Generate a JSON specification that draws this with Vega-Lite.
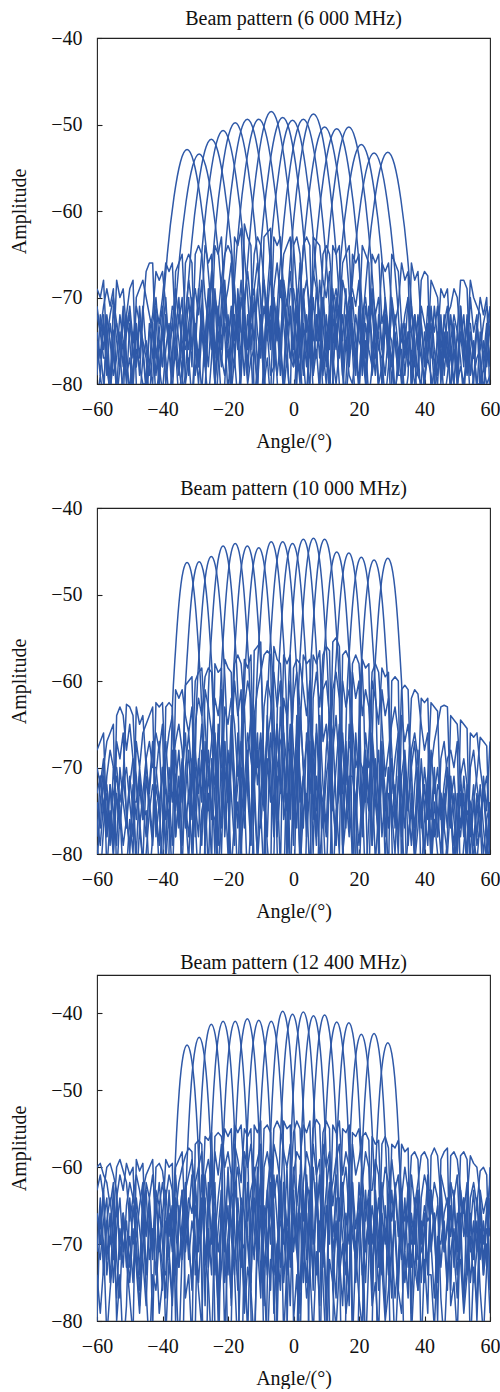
{
"$schema":"https://vega.github.io/schema/vega-lite/v6.json",
"background":"white",
"padding":{"left":9,"top":8,"right":0,"bottom":0},
"config":{
 "font":"Liberation Serif",
 "view":{"stroke":"#222","strokeWidth":1.1},
 "title":{"font":"Liberation Serif","fontSize":20,"fontWeight":"normal","color":"#111","offset":-1},
 "axis":{"labelFont":"Liberation Serif","labelFontSize":20,"labelColor":"#111","titleFont":"Liberation Serif","titleFontSize":20,"titleFontWeight":"normal","titleColor":"#111","grid":false,"domain":false,"tickColor":"#222","tickSize":-5,"tickWidth":1.1,"labelPadding":20,"labelFlush":false,"labelOverlap":false},
 "line":{"color":"#2f59a8","strokeWidth":1.5,"strokeJoin":"round"}
},
"datasets":{
"n1":[
{"x":-60,"a":-69,"b":-72,"c":-75,"d":-78,"e":-82,"f":-71,"g":-74,"h":-79},
{"x":-59,"a":-70,"b":-74,"c":-79,"d":-76,"e":-79,"f":-74,"g":-77,"h":-72},
{"x":-58,"a":-68,"b":-71,"c":-73,"d":-80,"e":-82,"f":-77,"g":-72,"h":-76},
{"x":-57,"a":-76,"b":-69,"c":-78,"d":-75,"e":-72,"f":-77,"g":-79,"h":-73},
{"x":-56,"a":-82,"b":-71,"c":-81,"d":-72,"e":-75,"f":-79,"g":-73,"h":-80},
{"x":-55,"a":-74,"b":-69,"c":-77,"d":-70,"e":-79,"f":-76,"g":-76,"h":-71},
{"x":-54,"a":-73,"b":-82,"c":-68,"d":-73,"e":-77,"f":-80,"g":-81,"h":-75},
{"x":-53,"a":-76,"b":-78,"c":-70,"d":-76,"e":-72,"f":-82,"g":-74,"h":-78},
{"x":-52,"a":-71,"b":-75,"c":-69,"d":-82,"e":-75,"f":-79,"g":-78,"h":-72},
{"x":-51,"a":-77,"b":-80,"c":-74,"d":-72,"e":-79,"f":-74,"g":-72,"h":-77},
{"x":-50,"a":-82,"b":-73,"c":-71,"d":-69,"e":-77,"f":-72,"g":-75,"h":-81},
{"x":-49,"a":-78,"b":-76,"c":-75,"d":-68,"e":-81,"f":-77,"g":-80,"h":-74},
{"x":-48,"a":-76,"b":-78,"c":-71,"d":-80,"e":-70,"f":-74,"g":-73,"h":-78},
{"x":-47,"a":-78,"b":-73,"c":-73,"d":-82,"e":-69,"f":-79,"g":-77,"h":-71},
{"x":-46,"a":-80,"b":-76,"c":-75,"d":-77,"e":-68,"f":-72,"g":-71,"h":-76},
{"x":-45,"a":-80,"b":-81,"c":-77,"d":-75,"e":-70,"f":-67,"g":-76,"h":-80},
{"x":-44,"a":-74,"b":-78,"c":-82,"d":-78,"e":-72,"f":-66,"g":-79,"h":-73},
{"x":-43,"a":-72,"b":-80,"c":-76,"d":-73,"e":-74,"f":-66,"g":-73,"h":-77},
{"x":-42,"a":-67,"b":-71,"c":-76,"d":-79,"e":-82,"f":-77,"g":-70,"h":-72},
{"x":-41,"a":-68,"b":-73,"c":-80,"d":-75,"e":-78,"f":-74,"g":-75,"h":-79},
{"x":-40,"a":-67,"b":-70,"c":-74,"d":-78,"e":-81,"f":-71,"g":-78,"h":-74},
{"x":-39,"a":-71,"b":-66,"c":-77,"d":-72,"e":-76,"f":-80,"g":-72,"h":-70},
{"x":-38,"a":-76,"b":-67,"c":-82,"d":-75,"e":-73,"f":-76,"g":-76,"h":-77},
{"x":-37,"a":-73,"b":-66,"c":-79,"d":-71,"e":-78,"f":-79,"g":-81,"h":-73},
{"x":-36,"a":-69,"b":-74,"c":-67,"d":-72,"e":-77,"f":-76,"g":-74,"h":-76},
{"x":-35,"a":-73,"b":-78,"c":-66,"d":-75,"e":-72,"f":-82,"g":-70,"h":-79},
{"x":-34,"a":-70,"b":-81,"c":-65,"d":-79,"e":-75,"f":-78,"g":-77,"h":-72},
{"x":-33,"a":-80,"b":-79,"c":-73,"d":-66,"e":-76,"f":-72,"g":-73,"h":-75},
{"x":-32,"a":-77,"b":-73,"c":-76,"d":-65,"e":-73,"f":-68,"g":-79,"h":-70},
{"x":-31,"a":-82,"b":-70,"c":-71,"d":-66,"e":-78,"f":-71,"g":-71,"h":-76},
{"x":-30,"a":-75,"b":-74,"c":-69,"d":-79,"e":-65,"f":-74,"g":-75,"h":-73},
{"x":-29,"a":-80,"b":-78,"c":-72,"d":-76,"e":-64,"f":-77,"g":-69,"h":-78},
{"x":-28,"a":-74,"b":-72,"c":-68,"d":-81,"e":-65,"f":-71,"g":-74,"h":-71},
{"x":-27,"a":-75,"b":-78,"c":-77,"d":-74,"e":-70,"f":-64,"g":-78,"h":-75},
{"x":-26,"a":-70,"b":-82,"c":-72,"d":-78,"e":-73,"f":-66,"g":-72,"h":-69},
{"x":-25,"a":-74,"b":-77,"c":-76,"d":-72,"e":-67,"f":-65,"g":-76,"h":-74},
{"x":-24,"a":-64,"b":-70,"c":-69,"d":-80,"e":-80,"f":-77,"g":-70,"h":-80},
{"x":-23,"a":-65,"b":-72,"c":-74,"d":-74,"e":-76,"f":-71,"g":-77,"h":-72},
{"x":-22,"a":-63,"b":-68,"c":-77,"d":-78,"e":-82,"f":-75,"g":-73,"h":-76},
{"x":-21,"a":-71,"b":-65,"c":-79,"d":-71,"e":-80,"f":-73,"g":-68,"h":-70},
{"x":-20,"a":-75,"b":-64,"c":-76,"d":-69,"e":-72,"f":-76,"g":-74,"h":-75},
{"x":-19,"a":-72,"b":-65,"c":-81,"d":-66,"e":-76,"f":-81,"g":-79,"h":-71},
{"x":-18,"a":-70,"b":-75,"c":-63,"d":-70,"e":-78,"f":-77,"g":-72,"h":-77},
{"x":-17,"a":-73,"b":-72,"c":-64,"d":-74,"e":-70,"f":-82,"g":-76,"h":-69},
{"x":-16,"a":-68,"b":-77,"c":-62,"d":-79,"e":-74,"f":-78,"g":-70,"h":-74},
{"x":-15,"a":-75,"b":-71,"c":-72,"d":-61.5,"e":-74,"f":-70,"g":-73,"h":-79},
{"x":-14,"a":-80,"b":-76,"c":-76,"d":-63,"e":-79,"f":-67,"g":-78,"h":-72},
{"x":-13,"a":-77,"b":-73,"c":-70,"d":-64,"e":-72,"f":-71,"g":-71,"h":-76},
{"x":-12,"a":-76,"b":-75,"c":-69,"d":-82,"e":-65,"f":-69,"g":-75,"h":-70},
{"x":-11,"a":-80,"b":-81,"c":-66,"d":-78,"e":-63,"f":-74,"g":-69,"h":-78},
{"x":-10,"a":-73,"b":-72,"c":-70,"d":-75,"e":-64,"f":-77,"g":-74,"h":-73},
{"x":-9,"a":-76,"b":-80,"c":-77,"d":-71,"e":-68,"f":-63,"g":-80,"h":-68},
{"x":-8,"a":-70,"b":-77,"c":-71,"d":-74,"e":-72,"f":-62.5,"g":-72,"h":-75},
{"x":-7,"a":-74,"b":-82,"c":-75,"d":-79,"e":-67,"f":-62,"g":-76,"h":-71},
{"x":-6,"a":-63,"b":-69,"c":-70,"d":-78,"e":-76,"f":-78,"g":-70,"h":-77},
{"x":-5,"a":-64,"b":-66,"c":-73,"d":-72,"e":-79,"f":-71,"g":-75,"h":-73},
{"x":-4,"a":-63,"b":-70,"c":-76,"d":-76,"e":-75,"f":-75,"g":-68,"h":-79},
{"x":-3,"a":-71,"b":-65,"c":-81,"d":-68,"e":-69,"f":-80,"g":-73,"h":-70},
{"x":-2,"a":-74,"b":-64,"c":-77,"d":-71,"e":-73,"f":-73,"g":-78,"h":-74},
{"x":-1,"a":-69,"b":-63,"c":-82,"d":-67,"e":-77,"f":-77,"g":-71,"h":-72},
{"x":0,"a":-69,"b":-71,"c":-64,"d":-72,"e":-75,"f":-78,"g":-76,"h":-78},
{"x":1,"a":-72,"b":-75,"c":-63,"d":-80,"e":-72,"f":-76,"g":-69,"h":-71},
{"x":2,"a":-66,"b":-79,"c":-65,"d":-70,"e":-77,"f":-80,"g":-74,"h":-75},
{"x":3,"a":-77,"b":-70,"c":-74,"d":-64,"e":-73,"f":-70,"g":-79,"h":-69},
{"x":4,"a":-82,"b":-74,"c":-78,"d":-63,"e":-76,"f":-68,"g":-72,"h":-76},
{"x":5,"a":-75,"b":-71,"c":-71,"d":-64,"e":-81,"f":-71,"g":-77,"h":-73},
{"x":6,"a":-74,"b":-75,"c":-67,"d":-79,"e":-63,"f":-78,"g":-70,"h":-79},
{"x":7,"a":-77,"b":-69,"c":-69,"d":-76,"e":-63.5,"f":-72,"g":-75,"h":-72},
{"x":8,"a":-72,"b":-73,"c":-72,"d":-81,"e":-64,"f":-75,"g":-68,"h":-77},
{"x":9,"a":-79,"b":-78,"c":-76,"d":-70,"e":-68,"f":-65,"g":-73,"h":-70},
{"x":10,"a":-72,"b":-75,"c":-80,"d":-76,"e":-70,"f":-64,"g":-78,"h":-74},
{"x":11,"a":-76,"b":-82,"c":-74,"d":-72,"e":-67,"f":-65,"g":-71,"h":-80},
{"x":12,"a":-64,"b":-71,"c":-69,"d":-78,"e":-77,"f":-70,"g":-76,"h":-72},
{"x":13,"a":-65,"b":-69,"c":-75,"d":-73,"e":-80,"f":-74,"g":-70,"h":-76},
{"x":14,"a":-64,"b":-72,"c":-71,"d":-77,"e":-76,"f":-80,"g":-74,"h":-71},
{"x":15,"a":-78,"b":-66,"c":-79,"d":-68,"e":-72,"f":-81,"g":-79,"h":-75},
{"x":16,"a":-73,"b":-65,"c":-82,"d":-70,"e":-76,"f":-75,"g":-72,"h":-69},
{"x":17,"a":-70,"b":-64,"c":-77,"d":-73,"e":-71,"f":-79,"g":-76,"h":-78},
{"x":18,"a":-69,"b":-74,"c":-65,"d":-75,"e":-76,"f":-80,"g":-70,"h":-73},
{"x":19,"a":-71,"b":-78,"c":-66,"d":-79,"e":-72,"f":-76,"g":-75,"h":-77},
{"x":20,"a":-68,"b":-72,"c":-65,"d":-73,"e":-75,"f":-81,"g":-80,"h":-71},
{"x":21,"a":-78,"b":-79,"c":-77,"d":-64,"e":-76,"f":-72,"g":-73,"h":-75},
{"x":22,"a":-75,"b":-73,"c":-71,"d":-65,"e":-80,"f":-70,"g":-77,"h":-79},
{"x":23,"a":-82,"b":-76,"c":-74,"d":-66,"e":-75,"f":-74,"g":-71,"h":-73},
{"x":24,"a":-78,"b":-78,"c":-69,"d":-79,"e":-65,"f":-71,"g":-75,"h":-70},
{"x":25,"a":-73,"b":-72,"c":-72,"d":-76,"e":-66,"f":-77,"g":-79,"h":-76},
{"x":26,"a":-81,"b":-76,"c":-70,"d":-80,"e":-65,"f":-73,"g":-72,"h":-74},
{"x":27,"a":-80,"b":-77,"c":-76,"d":-78,"e":-73,"f":-66,"g":-76,"h":-80},
{"x":28,"a":-73,"b":-82,"c":-79,"d":-72,"e":-71,"f":-67,"g":-70,"h":-72},
{"x":29,"a":-77,"b":-78,"c":-74,"d":-75,"e":-74,"f":-66,"g":-74,"h":-77},
{"x":30,"a":-65,"b":-70,"c":-80,"d":-77,"e":-75,"f":-71,"g":-78,"h":-71},
{"x":31,"a":-66,"b":-73,"c":-74,"d":-82,"e":-81,"f":-75,"g":-72,"h":-75},
{"x":32,"a":-67,"b":-71,"c":-77,"d":-76,"e":-78,"f":-79,"g":-76,"h":-79},
{"x":33,"a":-73,"b":-66,"c":-76,"d":-75,"e":-73,"f":-79,"g":-80,"h":-73},
{"x":34,"a":-79,"b":-68,"c":-82,"d":-72,"e":-77,"f":-75,"g":-73,"h":-76},
{"x":35,"a":-74,"b":-67,"c":-79,"d":-70,"e":-74,"f":-78,"g":-77,"h":-70},
{"x":36,"a":-74,"b":-81,"c":-66,"d":-80,"e":-77,"f":-77,"g":-71,"h":-74},
{"x":37,"a":-72,"b":-76,"c":-68,"d":-72,"e":-72,"f":-80,"g":-75,"h":-78},
{"x":38,"a":-76,"b":-79,"c":-67,"d":-76,"e":-75,"f":-78,"g":-79,"h":-72},
{"x":39,"a":-82,"b":-80,"c":-73,"d":-68,"e":-77,"f":-71,"g":-73,"h":-76},
{"x":40,"a":-79,"b":-74,"c":-78,"d":-67,"e":-80,"f":-73,"g":-77,"h":-80},
{"x":41,"a":-77,"b":-77,"c":-74,"d":-67.5,"e":-76,"f":-75,"g":-71,"h":-73},
{"x":42,"a":-79,"b":-71,"c":-72,"d":-81,"e":-68,"f":-73,"g":-75,"h":-77},
{"x":43,"a":-82,"b":-76,"c":-74,"d":-78,"e":-69,"f":-78,"g":-80,"h":-71},
{"x":44,"a":-77,"b":-79,"c":-71,"d":-80,"e":-70,"f":-75,"g":-74,"h":-75},
{"x":45,"a":-73,"b":-76,"c":-80,"d":-72,"e":-76,"f":-69,"g":-78,"h":-79},
{"x":46,"a":-77,"b":-82,"c":-75,"d":-79,"e":-73,"f":-70,"g":-72,"h":-74},
{"x":47,"a":-72,"b":-79,"c":-78,"d":-74,"e":-71,"f":-69,"g":-76,"h":-78},
{"x":48,"a":-71,"b":-75,"c":-77,"d":-81,"e":-77,"f":-76,"g":-81,"h":-72},
{"x":49,"a":-69,"b":-72,"c":-73,"d":-76,"e":-80,"f":-80,"g":-74,"h":-76},
{"x":50,"a":-70,"b":-74,"c":-80,"d":-79,"e":-82,"f":-74,"g":-78,"h":-80},
{"x":51,"a":-75,"b":-68,"c":-78,"d":-71,"e":-71,"f":-77,"g":-72,"h":-74},
{"x":52,"a":-72,"b":-68,"c":-80,"d":-76,"e":-75,"f":-82,"g":-77,"h":-78},
{"x":53,"a":-78,"b":-69,"c":-76,"d":-73,"e":-79,"f":-75,"g":-73,"h":-72},
{"x":54,"a":-70,"b":-79,"c":-68,"d":-73,"e":-74,"f":-82,"g":-79,"h":-76},
{"x":55,"a":-74,"b":-76,"c":-70,"d":-77,"e":-77,"f":-79,"g":-75,"h":-80},
{"x":56,"a":-72,"b":-80,"c":-71,"d":-74,"e":-73,"f":-77,"g":-81,"h":-73},
{"x":57,"a":-81,"b":-80,"c":-72,"d":-70,"e":-77,"f":-76,"g":-74,"h":-77},
{"x":58,"a":-78,"b":-75,"c":-78,"d":-72,"e":-82,"f":-73,"g":-77,"h":-81},
{"x":59,"a":-80,"b":-78,"c":-75,"d":-70,"e":-76,"f":-71,"g":-73,"h":-74},
{"x":60,"a":-79,"b":-73,"c":-74,"d":-82,"e":-71,"f":-73,"g":-78,"h":-77}
],
"n2":[
{"x":-60,"a":-70,"b":-76,"c":-68,"d":-82,"e":-73,"f":-79,"g":-74,"h":-78},
{"x":-59,"a":-72,"b":-79,"c":-67,"d":-74,"e":-71,"f":-83,"g":-77,"h":-71},
{"x":-58,"a":-69,"b":-74,"c":-66,"d":-70,"e":-75,"f":-77,"g":-71,"h":-75},
{"x":-57,"a":-82,"b":-72,"c":-77,"d":-67,"e":-78,"f":-71,"g":-78,"h":-73},
{"x":-56,"a":-76,"b":-77,"c":-72,"d":-66,"e":-75,"f":-68,"g":-72,"h":-79},
{"x":-55,"a":-80,"b":-73,"c":-79,"d":-65,"e":-80,"f":-70,"g":-75,"h":-70},
{"x":-54,"a":-73,"b":-71,"c":-67,"d":-83,"e":-64,"f":-70,"g":-79,"h":-74},
{"x":-53,"a":-77,"b":-75,"c":-69,"d":-75,"e":-63,"f":-74,"g":-70,"h":-77},
{"x":-52,"a":-72,"b":-83,"c":-66,"d":-79,"e":-64,"f":-71,"g":-74,"h":-71},
{"x":-51,"a":-70,"b":-82,"c":-76,"d":-76,"e":-68,"f":-62.7,"g":-77,"h":-75},
{"x":-50,"a":-74,"b":-76,"c":-79,"d":-72,"e":-65,"f":-63,"g":-71,"h":-80},
{"x":-49,"a":-78,"b":-80,"c":-74,"d":-69,"e":-69,"f":-64,"g":-75,"h":-72},
{"x":-48,"a":-63,"b":-67,"c":-74,"d":-71,"e":-84,"f":-72,"g":-80,"h":-76},
{"x":-47,"a":-65,"b":-70,"c":-71,"d":-77,"e":-77,"f":-76,"g":-72,"h":-70},
{"x":-46,"a":-64,"b":-66,"c":-76,"d":-73,"e":-81,"f":-81,"g":-76,"h":-74},
{"x":-45,"a":-70,"b":-65,"c":-75,"d":-69,"e":-71,"f":-80,"g":-69,"h":-78},
{"x":-44,"a":-73,"b":-64,"c":-83,"d":-67,"e":-75,"f":-75,"g":-74,"h":-72},
{"x":-43,"a":-68,"b":-63,"c":-78,"d":-70,"e":-79,"f":-72,"g":-78,"h":-67},
{"x":-42,"a":-66,"b":-78,"c":-62.5,"d":-70,"e":-72,"f":-74,"g":-71,"h":-75},
{"x":-41,"a":-68,"b":-74,"c":-63,"d":-74,"e":-75,"f":-82,"g":-67,"h":-79},
{"x":-40,"a":-65,"b":-71,"c":-62.5,"d":-83,"e":-70,"f":-77,"g":-75,"h":-70},
{"x":-39,"a":-81,"b":-67,"c":-72,"d":-63,"e":-76,"f":-69,"g":-79,"h":-73},
{"x":-38,"a":-75,"b":-73,"c":-76,"d":-62.5,"e":-73,"f":-66,"g":-70,"h":-77},
{"x":-37,"a":-83,"b":-69,"c":-70,"d":-63,"e":-79,"f":-64,"g":-74,"h":-68},
{"x":-36,"a":-72,"b":-78,"c":-67,"d":-78,"e":-61,"f":-72,"g":-68,"h":-75},
{"x":-35,"a":-76,"b":-73,"c":-65,"d":-74,"e":-62,"f":-68,"g":-77,"h":-71},
{"x":-34,"a":-70,"b":-69,"c":-68,"d":-82,"e":-61,"f":-74,"g":-71,"h":-79},
{"x":-33,"a":-75,"b":-77,"c":-74,"d":-70,"e":-64,"f":-60.5,"g":-66,"h":-73},
{"x":-32,"a":-81,"b":-73,"c":-78,"d":-66,"e":-66,"f":-60,"g":-74,"h":-68},
{"x":-31,"a":-70,"b":-80,"c":-72,"d":-71,"e":-63,"f":-59.5,"g":-69,"h":-76},
{"x":-30,"a":-60,"b":-65,"c":-68,"d":-75,"e":-76,"f":-74,"g":-78,"h":-70},
{"x":-29,"a":-59,"b":-62,"c":-73,"d":-69,"e":-84,"f":-78,"g":-70,"h":-74},
{"x":-28,"a":-58.5,"b":-64,"c":-69,"d":-74,"e":-75,"f":-68,"g":-65,"h":-79},
{"x":-27,"a":-65,"b":-59.5,"c":-79,"d":-61,"e":-73,"f":-77,"g":-73,"h":-67},
{"x":-26,"a":-71,"b":-58.5,"c":-73,"d":-63,"e":-82,"f":-71,"g":-68,"h":-75},
{"x":-25,"a":-67,"b":-59,"c":-81,"d":-66,"e":-69,"f":-75,"g":-76,"h":-70},
{"x":-24,"a":-62,"b":-68,"c":-58,"d":-74,"e":-72,"f":-76,"g":-66,"h":-80},
{"x":-23,"a":-64,"b":-73,"c":-59,"d":-79,"e":-66,"f":-83,"g":-72,"h":-65},
{"x":-22,"a":-61,"b":-77,"c":-58.5,"d":-68,"e":-70,"f":-74,"g":-80,"h":-71},
{"x":-21,"a":-78,"b":-67,"c":-72,"d":-57.5,"e":-70,"f":-63,"g":-67,"h":-76},
{"x":-20,"a":-72,"b":-73,"c":-80,"d":-58.5,"e":-74,"f":-65,"g":-74,"h":-68},
{"x":-19,"a":-82,"b":-68,"c":-67,"d":-59,"e":-69,"f":-62,"g":-64,"h":-73},
{"x":-18,"a":-76,"b":-73,"c":-60,"d":-77,"e":-58,"f":-65,"g":-71,"h":-79},
{"x":-17,"a":-72,"b":-84,"c":-64,"d":-74,"e":-57,"f":-71,"g":-77,"h":-66},
{"x":-16,"a":-67,"b":-70,"c":-61,"d":-80,"e":-58,"f":-67,"g":-69,"h":-72},
{"x":-15,"a":-75,"b":-73,"c":-74,"d":-72,"e":-63,"f":-57.5,"g":-63,"h":-77},
{"x":-14,"a":-68,"b":-84,"c":-70,"d":-66,"e":-60,"f":-58.5,"g":-73,"h":-69},
{"x":-13,"a":-79,"b":-76,"c":-78,"d":-69,"e":-62,"f":-57,"g":-79,"h":-64},
{"x":-12,"a":-56.5,"b":-64,"c":-64,"d":-72,"e":-71,"f":-72,"g":-66,"h":-74},
{"x":-11,"a":-56,"b":-61,"c":-70,"d":-68,"e":-81,"f":-66,"g":-72,"h":-80},
{"x":-10,"a":-55.5,"b":-59,"c":-66,"d":-75,"e":-75,"f":-77,"g":-68,"h":-67},
{"x":-9,"a":-71,"b":-57,"c":-72,"d":-63,"e":-83,"f":-71,"g":-75,"h":-73},
{"x":-8,"a":-67,"b":-56.5,"c":-79,"d":-60,"e":-69,"f":-66,"g":-64,"h":-78},
{"x":-7,"a":-64,"b":-57,"c":-84,"d":-62,"e":-74,"f":-73,"g":-70,"h":-66},
{"x":-6,"a":-59,"b":-77,"c":-56,"d":-67,"e":-69,"f":-74,"g":-78,"h":-71},
{"x":-5,"a":-63,"b":-70,"c":-57.5,"d":-78,"e":-65,"f":-71,"g":-65,"h":-76},
{"x":-4,"a":-60,"b":-67,"c":-58,"d":-72,"e":-72,"f":-82,"g":-73,"h":-63},
{"x":-3,"a":-76,"b":-66,"c":-66,"d":-57,"e":-74,"f":-62,"g":-69,"h":-70},
{"x":-2,"a":-73,"b":-70,"c":-80,"d":-58,"e":-69,"f":-64,"g":-80,"h":-75},
{"x":-1,"a":-84,"b":-65,"c":-70,"d":-57,"e":-76,"f":-60,"g":-66,"h":-68},
{"x":0,"a":-71,"b":-75,"c":-62,"d":-77,"e":-58.5,"f":-68,"g":-72,"h":-79},
{"x":1,"a":-66,"b":-68,"c":-59,"d":-72,"e":-57.5,"f":-73,"g":-77,"h":-64},
{"x":2,"a":-74,"b":-82,"c":-63,"d":-80,"e":-58,"f":-66,"g":-63,"h":-71},
{"x":3,"a":-71,"b":-75,"c":-70,"d":-71,"e":-61,"f":-57,"g":-70,"h":-77},
{"x":4,"a":-76,"b":-73,"c":-78,"d":-67,"e":-64,"f":-58,"g":-75,"h":-66},
{"x":5,"a":-67,"b":-83,"c":-72,"d":-64,"e":-60,"f":-57.5,"g":-67,"h":-73},
{"x":6,"a":-57,"b":-62,"c":-70,"d":-67,"e":-76,"f":-73,"g":-80,"h":-69},
{"x":7,"a":-58,"b":-59,"c":-66,"d":-75,"e":-71,"f":-79,"g":-65,"h":-78},
{"x":8,"a":-56.5,"b":-63,"c":-72,"d":-70,"e":-81,"f":-69,"g":-71,"h":-64},
{"x":9,"a":-67,"b":-57,"c":-74,"d":-61,"e":-75,"f":-77,"g":-76,"h":-72},
{"x":10,"a":-65,"b":-56,"c":-78,"d":-60,"e":-84,"f":-71,"g":-68,"h":-77},
{"x":11,"a":-71,"b":-56.5,"c":-72,"d":-64,"e":-70,"f":-68,"g":-64,"h":-67},
{"x":12,"a":-61,"b":-74,"c":-55.5,"d":-66,"e":-68,"f":-84,"g":-73,"h":-75},
{"x":13,"a":-59,"b":-79,"c":-55,"d":-74,"e":-64,"f":-75,"g":-79,"h":-70},
{"x":14,"a":-62,"b":-70,"c":-56,"d":-80,"e":-70,"f":-73,"g":-66,"h":-65},
{"x":15,"a":-80,"b":-66,"c":-68,"d":-57,"e":-73,"f":-60,"g":-72,"h":-79},
{"x":16,"a":-76,"b":-72,"c":-73,"d":-56.5,"e":-67,"f":-63,"g":-77,"h":-68},
{"x":17,"a":-71,"b":-67,"c":-78,"d":-57.5,"e":-76,"f":-61,"g":-65,"h":-74},
{"x":18,"a":-71,"b":-69,"c":-59,"d":-82,"e":-58,"f":-65,"g":-70,"h":-80},
{"x":19,"a":-74,"b":-75,"c":-62,"d":-74,"e":-57,"f":-70,"g":-75,"h":-66},
{"x":20,"a":-69,"b":-83,"c":-60,"d":-79,"e":-58,"f":-68,"g":-67,"h":-72},
{"x":21,"a":-70,"b":-73,"c":-77,"d":-73,"e":-64,"f":-57.5,"g":-78,"h":-77},
{"x":22,"a":-74,"b":-84,"c":-72,"d":-66,"e":-61,"f":-58.5,"g":-69,"h":-68},
{"x":23,"a":-67,"b":-76,"c":-75,"d":-70,"e":-63,"f":-58,"g":-74,"h":-73},
{"x":24,"a":-59,"b":-60,"c":-67,"d":-68,"e":-71,"f":-79,"g":-66,"h":-79},
{"x":25,"a":-58,"b":-62,"c":-72,"d":-74,"e":-81,"f":-72,"g":-71,"h":-69},
{"x":26,"a":-59,"b":-65,"c":-68,"d":-78,"e":-75,"f":-76,"g":-80,"h":-74},
{"x":27,"a":-65,"b":-58.5,"c":-78,"d":-61,"e":-69,"f":-71,"g":-68,"h":-67},
{"x":28,"a":-71,"b":-59.5,"c":-73,"d":-64,"e":-81,"f":-75,"g":-73,"h":-78},
{"x":29,"a":-68,"b":-59,"c":-83,"d":-62,"e":-73,"f":-70,"g":-77,"h":-70},
{"x":30,"a":-65,"b":-76,"c":-60,"d":-68,"e":-73,"f":-77,"g":-69,"h":-75},
{"x":31,"a":-63,"b":-72,"c":-59.5,"d":-77,"e":-69,"f":-74,"g":-74,"h":-80},
{"x":32,"a":-66,"b":-78,"c":-60,"d":-72,"e":-66,"f":-80,"g":-67,"h":-71},
{"x":33,"a":-76,"b":-71,"c":-82,"d":-61,"e":-73,"f":-64,"g":-78,"h":-76},
{"x":34,"a":-83,"b":-68,"c":-70,"d":-60.5,"e":-77,"f":-67,"g":-71,"h":-69},
{"x":35,"a":-78,"b":-74,"c":-75,"d":-61,"e":-71,"f":-65,"g":-75,"h":-79},
{"x":36,"a":-75,"b":-79,"c":-68,"d":-74,"e":-62,"f":-70,"g":-70,"h":-73},
{"x":37,"a":-80,"b":-72,"c":-66,"d":-81,"e":-61,"f":-67,"g":-79,"h":-77},
{"x":38,"a":-73,"b":-68,"c":-69,"d":-77,"e":-61.5,"f":-73,"g":-72,"h":-70},
{"x":39,"a":-76,"b":-84,"c":-77,"d":-69,"e":-65,"f":-62,"g":-76,"h":-74},
{"x":40,"a":-80,"b":-75,"c":-72,"d":-75,"e":-68,"f":-62.5,"g":-70,"h":-80},
{"x":41,"a":-71,"b":-79,"c":-76,"d":-71,"e":-66,"f":-62,"g":-74,"h":-72},
{"x":42,"a":-62.5,"b":-70,"c":-68,"d":-81,"e":-82,"f":-74,"g":-79,"h":-76},
{"x":43,"a":-63,"b":-67,"c":-73,"d":-74,"e":-76,"f":-78,"g":-71,"h":-70},
{"x":44,"a":-63.5,"b":-65,"c":-70,"d":-78,"e":-80,"f":-72,"g":-75,"h":-78},
{"x":45,"a":-76,"b":-63,"c":-75,"d":-69,"e":-83,"f":-73,"g":-80,"h":-73},
{"x":46,"a":-72,"b":-62.8,"c":-83,"d":-67,"e":-75,"f":-77,"g":-73,"h":-77},
{"x":47,"a":-69,"b":-63,"c":-78,"d":-71,"e":-70,"f":-80,"g":-77,"h":-71},
{"x":48,"a":-68,"b":-75,"c":-64,"d":-77,"e":-74,"f":-74,"g":-71,"h":-75},
{"x":49,"a":-70,"b":-79,"c":-64.5,"d":-73,"e":-71,"f":-82,"g":-76,"h":-81},
{"x":50,"a":-67,"b":-74,"c":-65,"d":-80,"e":-76,"f":-77,"g":-80,"h":-73},
{"x":51,"a":-84,"b":-72,"c":-71,"d":-64.5,"e":-78,"f":-71,"g":-73,"h":-77},
{"x":52,"a":-79,"b":-77,"c":-76,"d":-65,"e":-73,"f":-69,"g":-78,"h":-71},
{"x":53,"a":-75,"b":-73,"c":-82,"d":-65.5,"e":-81,"f":-72,"g":-72,"h":-76},
{"x":54,"a":-76,"b":-74,"c":-70,"d":-83,"e":-66,"f":-78,"g":-76,"h":-80},
{"x":55,"a":-72,"b":-79,"c":-68,"d":-78,"e":-66.5,"f":-74,"g":-81,"h":-74},
{"x":56,"a":-79,"b":-73,"c":-72,"d":-81,"e":-66,"f":-71,"g":-74,"h":-78},
{"x":57,"a":-77,"b":-76,"c":-75,"d":-76,"e":-70,"f":-66.5,"g":-78,"h":-72},
{"x":58,"a":-71,"b":-84,"c":-80,"d":-73,"e":-73,"f":-67,"g":-72,"h":-77},
{"x":59,"a":-75,"b":-79,"c":-76,"d":-78,"e":-71,"f":-67.5,"g":-77,"h":-81},
{"x":60,"a":-67,"b":-74,"c":-74,"d":-82,"e":-77,"f":-80,"g":-80,"h":-75}
],
"n3":[
{"x":-60,"a":-70,"b":-80,"c":-63,"d":-74,"e":-60,"f":-66,"g":-66,"h":-71},
{"x":-59,"a":-72,"b":-65,"c":-61,"d":-79,"e":-59.5,"f":-68,"g":-70,"h":-64},
{"x":-58,"a":-67,"b":-70,"c":-64,"d":-73,"e":-61,"f":-63,"g":-63,"h":-74},
{"x":-57,"a":-64,"b":-82,"c":-74,"d":-67,"e":-62,"f":-60,"g":-72,"h":-67},
{"x":-56,"a":-75,"b":-76,"c":-69,"d":-64,"e":-65,"f":-59.5,"g":-66,"h":-70},
{"x":-55,"a":-67,"b":-71,"c":-72,"d":-69,"e":-62,"f":-61,"g":-75,"h":-63},
{"x":-54,"a":-60,"b":-64,"c":-65,"d":-77,"e":-80,"f":-63,"g":-68,"h":-72},
{"x":-53,"a":-59,"b":-61,"c":-70,"d":-68,"e":-74,"f":-72,"g":-64,"h":-77},
{"x":-52,"a":-60.5,"b":-63,"c":-66,"d":-73,"e":-84,"f":-66,"g":-71,"h":-66},
{"x":-51,"a":-62,"b":-59.5,"c":-72,"d":-65,"e":-78,"f":-70,"g":-67,"h":-73},
{"x":-50,"a":-67,"b":-61,"c":-77,"d":-62,"e":-64,"f":-75,"g":-73,"h":-69},
{"x":-49,"a":-64,"b":-60,"c":-82,"d":-64,"e":-70,"f":-68,"g":-65,"h":-75},
{"x":-48,"a":-61,"b":-72,"c":-59,"d":-66,"e":-69,"f":-73,"g":-70,"h":-64},
{"x":-47,"a":-63,"b":-78,"c":-60.5,"d":-74,"e":-65,"f":-79,"g":-76,"h":-68},
{"x":-46,"a":-66,"b":-70,"c":-59.5,"d":-63,"e":-62,"f":-71,"g":-67,"h":-72},
{"x":-45,"a":-76,"b":-68,"c":-69,"d":-61,"e":-74,"f":-62,"g":-63,"h":-78},
{"x":-44,"a":-84,"b":-64,"c":-65,"d":-60,"e":-67,"f":-64,"g":-72,"h":-66},
{"x":-43,"a":-74,"b":-70,"c":-81,"d":-59,"e":-72,"f":-61,"g":-68,"h":-71},
{"x":-42,"a":-76,"b":-64,"c":-63,"d":-70,"e":-60,"f":-66,"g":-74,"h":-64},
{"x":-41,"a":-69,"b":-71,"c":-65,"d":-79,"e":-59.5,"f":-62,"g":-65,"h":-69},
{"x":-40,"a":-73,"b":-66,"c":-62,"d":-75,"e":-60.5,"f":-67,"g":-70,"h":-76},
{"x":-39,"a":-74,"b":-82,"c":-66,"d":-63,"e":-64,"f":-59,"g":-77,"h":-67},
{"x":-38,"a":-63,"b":-72,"c":-71,"d":-69,"e":-61,"f":-60,"g":-66,"h":-72},
{"x":-37,"a":-70,"b":-78,"c":-77,"d":-65,"e":-63,"f":-59.5,"g":-71,"h":-65},
{"x":-36,"a":-60,"b":-66,"c":-61,"d":-68,"e":-73,"f":-80,"g":-64,"h":-74},
{"x":-35,"a":-59,"b":-62,"c":-67,"d":-73,"e":-84,"f":-65,"g":-73,"h":-68},
{"x":-34,"a":-58,"b":-60,"c":-63,"d":-69,"e":-71,"f":-72,"g":-67,"h":-63},
{"x":-33,"a":-68,"b":-58.5,"c":-77,"d":-63,"e":-64,"f":-65,"g":-62,"h":-71},
{"x":-32,"a":-64,"b":-57.5,"c":-74,"d":-61,"e":-69,"f":-72,"g":-70,"h":-66},
{"x":-31,"a":-66,"b":-58,"c":-83,"d":-59,"e":-76,"f":-67,"g":-75,"h":-61},
{"x":-30,"a":-62,"b":-74,"c":-57,"d":-63,"e":-62,"f":-70,"g":-65,"h":-69},
{"x":-29,"a":-60,"b":-69,"c":-56.5,"d":-71,"e":-68,"f":-76,"g":-69,"h":-75},
{"x":-28,"a":-58,"b":-65,"c":-57,"d":-66,"e":-64,"f":-81,"g":-61,"h":-67},
{"x":-27,"a":-72,"b":-61,"c":-78,"d":-56,"e":-72,"f":-61,"g":-72,"h":-64},
{"x":-26,"a":-75,"b":-66,"c":-62,"d":-56.5,"e":-68,"f":-59,"g":-66,"h":-73},
{"x":-25,"a":-84,"b":-63,"c":-70,"d":-55.5,"e":-74,"f":-62,"g":-60,"h":-68},
{"x":-24,"a":-66,"b":-65,"c":-58,"d":-71,"e":-56,"f":-69,"g":-74,"h":-62},
{"x":-23,"a":-71,"b":-80,"c":-61,"d":-78,"e":-55.5,"f":-64,"g":-68,"h":-77},
{"x":-22,"a":-67,"b":-63,"c":-57,"d":-73,"e":-56,"f":-60,"g":-63,"h":-66},
{"x":-21,"a":-69,"b":-82,"c":-75,"d":-66,"e":-60,"f":-55,"g":-70,"h":-71},
{"x":-20,"a":-74,"b":-70,"c":-69,"d":-62,"e":-58,"f":-56,"g":-65,"h":-60},
{"x":-19,"a":-62,"b":-77,"c":-64,"d":-67,"e":-61,"f":-55,"g":-78,"h":-69},
{"x":-18,"a":-54.5,"b":-57,"c":-63,"d":-72,"e":-74,"f":-68,"g":-62,"h":-74},
{"x":-17,"a":-55.5,"b":-59,"c":-60,"d":-67,"e":-84,"f":-76,"g":-67,"h":-64},
{"x":-16,"a":-54.5,"b":-62,"c":-65,"d":-73,"e":-71,"f":-64,"g":-73,"h":-70},
{"x":-15,"a":-61,"b":-55,"c":-79,"d":-58,"e":-70,"f":-66,"g":-60,"h":-77},
{"x":-14,"a":-67,"b":-56,"c":-73,"d":-60,"e":-82,"f":-70,"g":-69,"h":-62},
{"x":-13,"a":-63,"b":-55,"c":-76,"d":-57,"e":-66,"f":-76,"g":-75,"h":-67},
{"x":-12,"a":-61,"b":-68,"c":-54.5,"d":-61,"e":-60,"f":-83,"g":-64,"h":-72},
{"x":-11,"a":-59,"b":-72,"c":-55.5,"d":-72,"e":-65,"f":-70,"g":-70,"h":-60},
{"x":-10,"a":-57,"b":-65,"c":-54,"d":-67,"e":-62,"f":-77,"g":-61,"h":-75},
{"x":-9,"a":-74,"b":-68,"c":-78,"d":-55,"e":-73,"f":-60,"g":-67,"h":-65},
{"x":-8,"a":-84,"b":-63,"c":-63,"d":-54.5,"e":-69,"f":-58,"g":-74,"h":-70},
{"x":-7,"a":-72,"b":-59,"c":-70,"d":-55.5,"e":-66,"f":-61,"g":-62,"h":-76},
{"x":-6,"a":-74,"b":-65,"c":-57,"d":-79,"e":-55,"f":-64,"g":-68,"h":-61},
{"x":-5,"a":-70,"b":-81,"c":-59,"d":-70,"e":-54,"f":-61,"g":-76,"h":-67},
{"x":-4,"a":-67,"b":-62,"c":-62,"d":-76,"e":-55,"f":-66,"g":-63,"h":-73},
{"x":-3,"a":-69,"b":-82,"c":-75,"d":-62,"e":-58,"f":-54,"g":-70,"h":-62},
{"x":-2,"a":-74,"b":-73,"c":-68,"d":-68,"e":-60,"f":-55,"g":-60,"h":-69},
{"x":-1,"a":-64,"b":-71,"c":-72,"d":-63,"e":-57,"f":-54.5,"g":-73,"h":-78},
{"x":0,"a":-55.5,"b":-61,"c":-60,"d":-65,"e":-80,"f":-71,"g":-66,"h":-63},
{"x":1,"a":-54,"b":-58,"c":-65,"d":-71,"e":-74,"f":-66,"g":-71,"h":-70},
{"x":2,"a":-55,"b":-59,"c":-61,"d":-76,"e":-84,"f":-79,"g":-62,"h":-66},
{"x":3,"a":-67,"b":-54.5,"c":-70,"d":-62,"e":-63,"f":-69,"g":-69,"h":-75},
{"x":4,"a":-62,"b":-55.5,"c":-77,"d":-58,"e":-72,"f":-66,"g":-75,"h":-61},
{"x":5,"a":-64,"b":-54,"c":-73,"d":-60,"e":-68,"f":-73,"g":-63,"h":-68},
{"x":6,"a":-57,"b":-68,"c":-55,"d":-76,"e":-60,"f":-82,"g":-70,"h":-74},
{"x":7,"a":-61,"b":-74,"c":-53.8,"d":-62,"e":-66,"f":-71,"g":-66,"h":-62},
{"x":8,"a":-59,"b":-67,"c":-54.5,"d":-70,"e":-62,"f":-78,"g":-61,"h":-71},
{"x":9,"a":-75,"b":-68,"c":-65,"d":-55.5,"e":-72,"f":-57,"g":-73,"h":-67},
{"x":10,"a":-84,"b":-63,"c":-80,"d":-54,"e":-65,"f":-60,"g":-67,"h":-77},
{"x":11,"a":-72,"b":-59,"c":-64,"d":-55,"e":-70,"f":-58,"g":-62,"h":-63},
{"x":12,"a":-75,"b":-71,"c":-62,"d":-76,"e":-54.5,"f":-65,"g":-71,"h":-69},
{"x":13,"a":-68,"b":-67,"c":-59,"d":-81,"e":-55.5,"f":-61,"g":-77,"h":-64},
{"x":14,"a":-73,"b":-74,"c":-57,"d":-73,"e":-54,"f":-67,"g":-64,"h":-72},
{"x":15,"a":-62,"b":-70,"c":-66,"d":-63,"e":-61,"f":-55,"g":-69,"h":-78},
{"x":16,"a":-69,"b":-79,"c":-71,"d":-60,"e":-58,"f":-55.5,"g":-74,"h":-66},
{"x":17,"a":-78,"b":-75,"c":-76,"d":-66,"e":-60,"f":-54.5,"g":-63,"h":-70},
{"x":18,"a":-55.5,"b":-57,"c":-62,"d":-69,"e":-83,"f":-64,"g":-68,"h":-62},
{"x":19,"a":-56,"b":-61,"c":-68,"d":-72,"e":-71,"f":-71,"g":-72,"h":-75},
{"x":20,"a":-55,"b":-59,"c":-64,"d":-66,"e":-77,"f":-66,"g":-62,"h":-68},
{"x":21,"a":-61,"b":-56,"c":-74,"d":-62,"e":-81,"f":-74,"g":-67,"h":-64},
{"x":22,"a":-67,"b":-55.5,"c":-84,"d":-58,"e":-63,"f":-70,"g":-75,"h":-71},
{"x":23,"a":-63,"b":-56.5,"c":-72,"d":-60,"e":-70,"f":-67,"g":-64,"h":-66},
{"x":24,"a":-63,"b":-73,"c":-56,"d":-75,"e":-65,"f":-78,"g":-70,"h":-76},
{"x":25,"a":-59,"b":-69,"c":-57,"d":-65,"e":-69,"f":-75,"g":-65,"h":-63},
{"x":26,"a":-61,"b":-76,"c":-56.5,"d":-72,"e":-64,"f":-82,"g":-73,"h":-69},
{"x":27,"a":-73,"b":-66,"c":-68,"d":-57,"e":-71,"f":-64,"g":-62,"h":-74},
{"x":28,"a":-80,"b":-70,"c":-79,"d":-56,"e":-68,"f":-60,"g":-68,"h":-65},
{"x":29,"a":-76,"b":-65,"c":-64,"d":-57.5,"e":-74,"f":-62,"g":-71,"h":-70},
{"x":30,"a":-70,"b":-71,"c":-59,"d":-72,"e":-57,"f":-67,"g":-63,"h":-77},
{"x":31,"a":-77,"b":-67,"c":-63,"d":-84,"e":-57.5,"f":-63,"g":-69,"h":-62},
{"x":32,"a":-72,"b":-76,"c":-61,"d":-74,"e":-56.5,"f":-69,"g":-76,"h":-68},
{"x":33,"a":-63,"b":-79,"c":-68,"d":-65,"e":-64,"f":-57,"g":-65,"h":-72},
{"x":34,"a":-70,"b":-71,"c":-75,"d":-67,"e":-60,"f":-58,"g":-71,"h":-64},
{"x":35,"a":-66,"b":-77,"c":-70,"d":-64,"e":-63,"f":-57.5,"g":-62,"h":-73},
{"x":36,"a":-58.5,"b":-61,"c":-70,"d":-73,"e":-82,"f":-79,"g":-68,"h":-66},
{"x":37,"a":-58,"b":-65,"c":-66,"d":-67,"e":-73,"f":-64,"g":-74,"h":-70},
{"x":38,"a":-59,"b":-62,"c":-63,"d":-76,"e":-76,"f":-72,"g":-64,"h":-63},
{"x":39,"a":-69,"b":-58.5,"c":-84,"d":-64,"e":-67,"f":-71,"g":-70,"h":-75},
{"x":40,"a":-65,"b":-58,"c":-72,"d":-61,"e":-75,"f":-68,"g":-66,"h":-68},
{"x":41,"a":-67,"b":-59,"c":-79,"d":-63,"e":-63,"f":-74,"g":-73,"h":-61},
{"x":42,"a":-66,"b":-70,"c":-58.5,"d":-70,"e":-63,"f":-74,"g":-63,"h":-71},
{"x":43,"a":-62,"b":-77,"c":-57.5,"d":-66,"e":-68,"f":-81,"g":-69,"h":-66},
{"x":44,"a":-64,"b":-69,"c":-58.5,"d":-80,"e":-65,"f":-71,"g":-75,"h":-74},
{"x":45,"a":-77,"b":-70,"c":-64,"d":-59,"e":-73,"f":-61,"g":-64,"h":-62},
{"x":46,"a":-83,"b":-66,"c":-71,"d":-58,"e":-67,"f":-63,"g":-71,"h":-69},
{"x":47,"a":-73,"b":-64,"c":-68,"d":-57.5,"e":-75,"f":-65,"g":-67,"h":-76},
{"x":48,"a":-71,"b":-76,"c":-62,"d":-78,"e":-58.5,"f":-69,"g":-62,"h":-65},
{"x":49,"a":-68,"b":-63,"c":-64,"d":-75,"e":-58,"f":-65,"g":-73,"h":-71},
{"x":50,"a":-74,"b":-72,"c":-61,"d":-82,"e":-59,"f":-71,"g":-66,"h":-77},
{"x":51,"a":-66,"b":-72,"c":-70,"d":-67,"e":-63,"f":-58.5,"g":-70,"h":-63},
{"x":52,"a":-78,"b":-79,"c":-77,"d":-64,"e":-66,"f":-58,"g":-64,"h":-69},
{"x":53,"a":-64,"b":-74,"c":-72,"d":-69,"e":-62,"f":-59,"g":-74,"h":-66},
{"x":54,"a":-58.5,"b":-64,"c":-66,"d":-69,"e":-84,"f":-71,"g":-68,"h":-75},
{"x":55,"a":-59.5,"b":-62,"c":-72,"d":-75,"e":-73,"f":-67,"g":-63,"h":-70},
{"x":56,"a":-60,"b":-65,"c":-67,"d":-71,"e":-78,"f":-80,"g":-71,"h":-64},
{"x":57,"a":-64,"b":-60.5,"c":-76,"d":-63,"e":-65,"f":-68,"g":-66,"h":-72},
{"x":58,"a":-70,"b":-60,"c":-82,"d":-66,"e":-72,"f":-74,"g":-74,"h":-67},
{"x":59,"a":-66,"b":-61,"c":-73,"d":-64,"e":-68,"f":-70,"g":-65,"h":-73},
{"x":60,"a":-62,"b":-76,"c":-60,"d":-75,"e":-68,"f":-79,"g":-69,"h":-64}
],
"l1":[
{"b":1,"x":-42,"y":-85.9},{"b":1,"x":-40.5,"y":-74.9},{"b":1,"x":-38.5,"y":-64.9},{"b":1,"x":-36.5,"y":-58.4},{"b":1,"x":-34.5,"y":-54.3},{"b":1,"x":-32.5,"y":-52.9},{"b":1,"x":-30.5,"y":-54.3},{"b":1,"x":-28.5,"y":-58.4},{"b":1,"x":-26.5,"y":-64.9},{"b":1,"x":-24.5,"y":-74.9},{"b":1,"x":-23,"y":-85.9},
{"b":2,"x":-38.3,"y":-86.4},{"b":2,"x":-36.8,"y":-75.4},{"b":2,"x":-34.8,"y":-65.4},{"b":2,"x":-32.8,"y":-58.9},{"b":2,"x":-30.8,"y":-54.8},{"b":2,"x":-28.8,"y":-53.4},{"b":2,"x":-26.8,"y":-54.8},{"b":2,"x":-24.8,"y":-58.9},{"b":2,"x":-22.8,"y":-65.4},{"b":2,"x":-20.8,"y":-75.4},{"b":2,"x":-19.3,"y":-86.4},
{"b":3,"x":-34.6,"y":-84.7},{"b":3,"x":-33.1,"y":-73.7},{"b":3,"x":-31.1,"y":-63.7},{"b":3,"x":-29.1,"y":-57.2},{"b":3,"x":-27.1,"y":-53.1},{"b":3,"x":-25.1,"y":-51.7},{"b":3,"x":-23.1,"y":-53.1},{"b":3,"x":-21.1,"y":-57.2},{"b":3,"x":-19.1,"y":-63.7},{"b":3,"x":-17.1,"y":-73.7},{"b":3,"x":-15.6,"y":-84.7},
{"b":4,"x":-31,"y":-83.7},{"b":4,"x":-29.5,"y":-72.7},{"b":4,"x":-27.5,"y":-62.7},{"b":4,"x":-25.5,"y":-56.2},{"b":4,"x":-23.5,"y":-52.1},{"b":4,"x":-21.5,"y":-50.7},{"b":4,"x":-19.5,"y":-52.1},{"b":4,"x":-17.5,"y":-56.2},{"b":4,"x":-15.5,"y":-62.7},{"b":4,"x":-13.5,"y":-72.7},{"b":4,"x":-12,"y":-83.7},
{"b":5,"x":-27.3,"y":-82.8},{"b":5,"x":-25.8,"y":-71.8},{"b":5,"x":-23.8,"y":-61.8},{"b":5,"x":-21.8,"y":-55.3},{"b":5,"x":-19.8,"y":-51.2},{"b":5,"x":-17.8,"y":-49.8},{"b":5,"x":-15.8,"y":-51.2},{"b":5,"x":-13.8,"y":-55.3},{"b":5,"x":-11.8,"y":-61.8},{"b":5,"x":-9.8,"y":-71.8},{"b":5,"x":-8.3,"y":-82.8},
{"b":6,"x":-23.6,"y":-82.4},{"b":6,"x":-22.1,"y":-71.4},{"b":6,"x":-20.1,"y":-61.4},{"b":6,"x":-18.1,"y":-54.9},{"b":6,"x":-16.1,"y":-50.8},{"b":6,"x":-14.1,"y":-49.4},{"b":6,"x":-12.1,"y":-50.8},{"b":6,"x":-10.1,"y":-54.9},{"b":6,"x":-8.1,"y":-61.4},{"b":6,"x":-6.1,"y":-71.4},{"b":6,"x":-4.6,"y":-82.4},
{"b":7,"x":-20.1,"y":-82.4},{"b":7,"x":-18.6,"y":-71.4},{"b":7,"x":-16.6,"y":-61.4},{"b":7,"x":-14.6,"y":-54.9},{"b":7,"x":-12.6,"y":-50.8},{"b":7,"x":-10.6,"y":-49.4},{"b":7,"x":-8.6,"y":-50.8},{"b":7,"x":-6.6,"y":-54.9},{"b":7,"x":-4.6,"y":-61.4},{"b":7,"x":-2.6,"y":-71.4},{"b":7,"x":-1.1,"y":-82.4},
{"b":8,"x":-16.3,"y":-81.5},{"b":8,"x":-14.8,"y":-70.5},{"b":8,"x":-12.8,"y":-60.5},{"b":8,"x":-10.8,"y":-54},{"b":8,"x":-8.8,"y":-49.9},{"b":8,"x":-6.8,"y":-48.5},{"b":8,"x":-4.8,"y":-49.9},{"b":8,"x":-2.8,"y":-54},{"b":8,"x":-0.8,"y":-60.5},{"b":8,"x":1.2,"y":-70.5},{"b":8,"x":2.7,"y":-81.5},
{"b":9,"x":-12.8,"y":-82.2},{"b":9,"x":-11.3,"y":-71.2},{"b":9,"x":-9.3,"y":-61.2},{"b":9,"x":-7.3,"y":-54.7},{"b":9,"x":-5.3,"y":-50.6},{"b":9,"x":-3.3,"y":-49.2},{"b":9,"x":-1.3,"y":-50.6},{"b":9,"x":0.7,"y":-54.7},{"b":9,"x":2.7,"y":-61.2},{"b":9,"x":4.7,"y":-71.2},{"b":9,"x":6.2,"y":-82.2},
{"b":10,"x":-9.8,"y":-82.5},{"b":10,"x":-8.3,"y":-71.5},{"b":10,"x":-6.3,"y":-61.5},{"b":10,"x":-4.3,"y":-55},{"b":10,"x":-2.3,"y":-50.9},{"b":10,"x":-0.3,"y":-49.5},{"b":10,"x":1.7,"y":-50.9},{"b":10,"x":3.7,"y":-55},{"b":10,"x":5.7,"y":-61.5},{"b":10,"x":7.7,"y":-71.5},{"b":10,"x":9.2,"y":-82.5},
{"b":11,"x":-6.5,"y":-82.4},{"b":11,"x":-5,"y":-71.4},{"b":11,"x":-3,"y":-61.4},{"b":11,"x":-1,"y":-54.9},{"b":11,"x":1,"y":-50.8},{"b":11,"x":3,"y":-49.4},{"b":11,"x":5,"y":-50.8},{"b":11,"x":7,"y":-54.9},{"b":11,"x":9,"y":-61.4},{"b":11,"x":11,"y":-71.4},{"b":11,"x":12.5,"y":-82.4},
{"b":12,"x":-3.4,"y":-81.8},{"b":12,"x":-1.9,"y":-70.8},{"b":12,"x":0.1,"y":-60.8},{"b":12,"x":2.1,"y":-54.3},{"b":12,"x":4.1,"y":-50.2},{"b":12,"x":6.1,"y":-48.8},{"b":12,"x":8.1,"y":-50.2},{"b":12,"x":10.1,"y":-54.3},{"b":12,"x":12.1,"y":-60.8},{"b":12,"x":14.1,"y":-70.8},{"b":12,"x":15.6,"y":-81.8},
{"b":13,"x":0,"y":-83.3},{"b":13,"x":1.5,"y":-72.3},{"b":13,"x":3.5,"y":-62.3},{"b":13,"x":5.5,"y":-55.8},{"b":13,"x":7.5,"y":-51.7},{"b":13,"x":9.5,"y":-50.3},{"b":13,"x":11.5,"y":-51.7},{"b":13,"x":13.5,"y":-55.8},{"b":13,"x":15.5,"y":-62.3},{"b":13,"x":17.5,"y":-72.3},{"b":13,"x":19,"y":-83.3},
{"b":14,"x":3.7,"y":-83.5},{"b":14,"x":5.2,"y":-72.5},{"b":14,"x":7.2,"y":-62.5},{"b":14,"x":9.2,"y":-56},{"b":14,"x":11.2,"y":-51.9},{"b":14,"x":13.2,"y":-50.5},{"b":14,"x":15.2,"y":-51.9},{"b":14,"x":17.2,"y":-56},{"b":14,"x":19.2,"y":-62.5},{"b":14,"x":21.2,"y":-72.5},{"b":14,"x":22.7,"y":-83.5},
{"b":15,"x":7.4,"y":-83.3},{"b":15,"x":8.9,"y":-72.3},{"b":15,"x":10.9,"y":-62.3},{"b":15,"x":12.9,"y":-55.8},{"b":15,"x":14.9,"y":-51.7},{"b":15,"x":16.9,"y":-50.3},{"b":15,"x":18.9,"y":-51.7},{"b":15,"x":20.9,"y":-55.8},{"b":15,"x":22.9,"y":-62.3},{"b":15,"x":24.9,"y":-72.3},{"b":15,"x":26.4,"y":-83.3},
{"b":16,"x":11.2,"y":-85.3},{"b":16,"x":12.7,"y":-74.3},{"b":16,"x":14.7,"y":-64.3},{"b":16,"x":16.7,"y":-57.8},{"b":16,"x":18.7,"y":-53.7},{"b":16,"x":20.7,"y":-52.3},{"b":16,"x":22.7,"y":-53.7},{"b":16,"x":24.7,"y":-57.8},{"b":16,"x":26.7,"y":-64.3},{"b":16,"x":28.7,"y":-74.3},{"b":16,"x":30.2,"y":-85.3},
{"b":17,"x":15.1,"y":-86.3},{"b":17,"x":16.6,"y":-75.3},{"b":17,"x":18.6,"y":-65.3},{"b":17,"x":20.6,"y":-58.8},{"b":17,"x":22.6,"y":-54.7},{"b":17,"x":24.6,"y":-53.3},{"b":17,"x":26.6,"y":-54.7},{"b":17,"x":28.6,"y":-58.8},{"b":17,"x":30.6,"y":-65.3},{"b":17,"x":32.6,"y":-75.3},{"b":17,"x":34.1,"y":-86.3},
{"b":18,"x":19.3,"y":-86.2},{"b":18,"x":20.8,"y":-75.2},{"b":18,"x":22.8,"y":-65.2},{"b":18,"x":24.8,"y":-58.7},{"b":18,"x":26.8,"y":-54.6},{"b":18,"x":28.8,"y":-53.2},{"b":18,"x":30.8,"y":-54.6},{"b":18,"x":32.8,"y":-58.7},{"b":18,"x":34.8,"y":-65.2},{"b":18,"x":36.8,"y":-75.2},{"b":18,"x":38.3,"y":-86.2}
],
"l2":[
{"b":1,"x":-38.3,"y":-84.3},{"b":1,"x":-37,"y":-63.3},{"b":1,"x":-36,"y":-56.3},{"b":1,"x":-35,"y":-51.1},{"b":1,"x":-33.7,"y":-47.3},{"b":1,"x":-32.5,"y":-46.3},{"b":1,"x":-31.3,"y":-47.3},{"b":1,"x":-30,"y":-51.1},{"b":1,"x":-29,"y":-56.3},{"b":1,"x":-28,"y":-63.3},{"b":1,"x":-26.7,"y":-84.3},
{"b":2,"x":-34.6,"y":-84.2},{"b":2,"x":-33.3,"y":-63.2},{"b":2,"x":-32.3,"y":-56.2},{"b":2,"x":-31.3,"y":-51},{"b":2,"x":-30,"y":-47.2},{"b":2,"x":-28.8,"y":-46.2},{"b":2,"x":-27.6,"y":-47.2},{"b":2,"x":-26.3,"y":-51},{"b":2,"x":-25.3,"y":-56.2},{"b":2,"x":-24.3,"y":-63.2},{"b":2,"x":-23,"y":-84.2},
{"b":3,"x":-30.9,"y":-83.6},{"b":3,"x":-29.6,"y":-62.6},{"b":3,"x":-28.6,"y":-55.6},{"b":3,"x":-27.6,"y":-50.4},{"b":3,"x":-26.3,"y":-46.6},{"b":3,"x":-25.1,"y":-45.6},{"b":3,"x":-23.9,"y":-46.6},{"b":3,"x":-22.6,"y":-50.4},{"b":3,"x":-21.6,"y":-55.6},{"b":3,"x":-20.6,"y":-62.6},{"b":3,"x":-19.3,"y":-83.6},
{"b":4,"x":-27.3,"y":-82.4},{"b":4,"x":-26,"y":-61.4},{"b":4,"x":-25,"y":-54.4},{"b":4,"x":-24,"y":-49.2},{"b":4,"x":-22.7,"y":-45.4},{"b":4,"x":-21.5,"y":-44.4},{"b":4,"x":-20.3,"y":-45.4},{"b":4,"x":-19,"y":-49.2},{"b":4,"x":-18,"y":-54.4},{"b":4,"x":-17,"y":-61.4},{"b":4,"x":-15.7,"y":-82.4},
{"b":5,"x":-23.6,"y":-82.1},{"b":5,"x":-22.3,"y":-61.1},{"b":5,"x":-21.3,"y":-54.1},{"b":5,"x":-20.3,"y":-48.9},{"b":5,"x":-19,"y":-45.1},{"b":5,"x":-17.8,"y":-44.1},{"b":5,"x":-16.6,"y":-45.1},{"b":5,"x":-15.3,"y":-48.9},{"b":5,"x":-14.3,"y":-54.1},{"b":5,"x":-13.3,"y":-61.1},{"b":5,"x":-12,"y":-82.1},
{"b":6,"x":-19.9,"y":-82.4},{"b":6,"x":-18.6,"y":-61.4},{"b":6,"x":-17.6,"y":-54.4},{"b":6,"x":-16.6,"y":-49.2},{"b":6,"x":-15.3,"y":-45.4},{"b":6,"x":-14.1,"y":-44.4},{"b":6,"x":-12.9,"y":-45.4},{"b":6,"x":-11.6,"y":-49.2},{"b":6,"x":-10.6,"y":-54.4},{"b":6,"x":-9.6,"y":-61.4},{"b":6,"x":-8.3,"y":-82.4},
{"b":7,"x":-16.4,"y":-82.6},{"b":7,"x":-15.1,"y":-61.6},{"b":7,"x":-14.1,"y":-54.6},{"b":7,"x":-13.1,"y":-49.4},{"b":7,"x":-11.8,"y":-45.6},{"b":7,"x":-10.6,"y":-44.6},{"b":7,"x":-9.4,"y":-45.6},{"b":7,"x":-8.1,"y":-49.4},{"b":7,"x":-7.1,"y":-54.6},{"b":7,"x":-6.1,"y":-61.6},{"b":7,"x":-4.8,"y":-82.6},
{"b":8,"x":-12.6,"y":-81.9},{"b":8,"x":-11.3,"y":-60.9},{"b":8,"x":-10.3,"y":-53.9},{"b":8,"x":-9.3,"y":-48.7},{"b":8,"x":-8,"y":-44.9},{"b":8,"x":-6.8,"y":-43.9},{"b":8,"x":-5.6,"y":-44.9},{"b":8,"x":-4.3,"y":-48.7},{"b":8,"x":-3.3,"y":-53.9},{"b":8,"x":-2.3,"y":-60.9},{"b":8,"x":-1,"y":-81.9},
{"b":9,"x":-9.1,"y":-81.9},{"b":9,"x":-7.8,"y":-60.9},{"b":9,"x":-6.8,"y":-53.9},{"b":9,"x":-5.8,"y":-48.7},{"b":9,"x":-4.5,"y":-44.9},{"b":9,"x":-3.3,"y":-43.9},{"b":9,"x":-2.1,"y":-44.9},{"b":9,"x":-0.8,"y":-48.7},{"b":9,"x":0.2,"y":-53.9},{"b":9,"x":1.2,"y":-60.9},{"b":9,"x":2.5,"y":-81.9},
{"b":10,"x":-6.1,"y":-82.1},{"b":10,"x":-4.8,"y":-61.1},{"b":10,"x":-3.8,"y":-54.1},{"b":10,"x":-2.8,"y":-48.9},{"b":10,"x":-1.5,"y":-45.1},{"b":10,"x":-0.3,"y":-44.1},{"b":10,"x":0.9,"y":-45.1},{"b":10,"x":2.2,"y":-48.9},{"b":10,"x":3.2,"y":-54.1},{"b":10,"x":4.2,"y":-61.1},{"b":10,"x":5.5,"y":-82.1},
{"b":11,"x":-2.8,"y":-81.6},{"b":11,"x":-1.5,"y":-60.6},{"b":11,"x":-0.5,"y":-53.6},{"b":11,"x":0.5,"y":-48.4},{"b":11,"x":1.8,"y":-44.6},{"b":11,"x":3,"y":-43.6},{"b":11,"x":4.2,"y":-44.6},{"b":11,"x":5.5,"y":-48.4},{"b":11,"x":6.5,"y":-53.6},{"b":11,"x":7.5,"y":-60.6},{"b":11,"x":8.8,"y":-81.6},
{"b":12,"x":0.3,"y":-81.5},{"b":12,"x":1.6,"y":-60.5},{"b":12,"x":2.6,"y":-53.5},{"b":12,"x":3.6,"y":-48.3},{"b":12,"x":4.9,"y":-44.5},{"b":12,"x":6.1,"y":-43.5},{"b":12,"x":7.3,"y":-44.5},{"b":12,"x":8.6,"y":-48.3},{"b":12,"x":9.6,"y":-53.5},{"b":12,"x":10.6,"y":-60.5},{"b":12,"x":11.9,"y":-81.5},
{"b":13,"x":3.7,"y":-81.6},{"b":13,"x":5,"y":-60.6},{"b":13,"x":6,"y":-53.6},{"b":13,"x":7,"y":-48.4},{"b":13,"x":8.3,"y":-44.6},{"b":13,"x":9.5,"y":-43.6},{"b":13,"x":10.7,"y":-44.6},{"b":13,"x":12,"y":-48.4},{"b":13,"x":13,"y":-53.6},{"b":13,"x":14,"y":-60.6},{"b":13,"x":15.3,"y":-81.6},
{"b":14,"x":7.4,"y":-83.1},{"b":14,"x":8.7,"y":-62.1},{"b":14,"x":9.7,"y":-55.1},{"b":14,"x":10.7,"y":-49.9},{"b":14,"x":12,"y":-46.1},{"b":14,"x":13.2,"y":-45.1},{"b":14,"x":14.4,"y":-46.1},{"b":14,"x":15.7,"y":-49.9},{"b":14,"x":16.7,"y":-55.1},{"b":14,"x":17.7,"y":-62.1},{"b":14,"x":19,"y":-83.1},
{"b":15,"x":11.1,"y":-83.2},{"b":15,"x":12.4,"y":-62.2},{"b":15,"x":13.4,"y":-55.2},{"b":15,"x":14.4,"y":-50},{"b":15,"x":15.7,"y":-46.2},{"b":15,"x":16.9,"y":-45.2},{"b":15,"x":18.1,"y":-46.2},{"b":15,"x":19.4,"y":-50},{"b":15,"x":20.4,"y":-55.2},{"b":15,"x":21.4,"y":-62.2},{"b":15,"x":22.7,"y":-83.2},
{"b":16,"x":14.9,"y":-83.7},{"b":16,"x":16.2,"y":-62.7},{"b":16,"x":17.2,"y":-55.7},{"b":16,"x":18.2,"y":-50.5},{"b":16,"x":19.5,"y":-46.7},{"b":16,"x":20.7,"y":-45.7},{"b":16,"x":21.9,"y":-46.7},{"b":16,"x":23.2,"y":-50.5},{"b":16,"x":24.2,"y":-55.7},{"b":16,"x":25.2,"y":-62.7},{"b":16,"x":26.5,"y":-83.7},
{"b":17,"x":18.8,"y":-84},{"b":17,"x":20.1,"y":-63},{"b":17,"x":21.1,"y":-56},{"b":17,"x":22.1,"y":-50.8},{"b":17,"x":23.4,"y":-47},{"b":17,"x":24.6,"y":-46},{"b":17,"x":25.8,"y":-47},{"b":17,"x":27.1,"y":-50.8},{"b":17,"x":28.1,"y":-56},{"b":17,"x":29.1,"y":-63},{"b":17,"x":30.4,"y":-84},
{"b":18,"x":23,"y":-83.8},{"b":18,"x":24.3,"y":-62.8},{"b":18,"x":25.3,"y":-55.8},{"b":18,"x":26.3,"y":-50.6},{"b":18,"x":27.6,"y":-46.8},{"b":18,"x":28.8,"y":-45.8},{"b":18,"x":30,"y":-46.8},{"b":18,"x":31.3,"y":-50.6},{"b":18,"x":32.3,"y":-55.8},{"b":18,"x":33.3,"y":-62.8},{"b":18,"x":34.6,"y":-83.8}
],
"l3":[
{"b":1,"x":-37.5,"y":-86.1},{"b":1,"x":-36.5,"y":-64.1},{"b":1,"x":-35.7,"y":-55.6},{"b":1,"x":-34.9,"y":-50.1},{"b":1,"x":-33.7,"y":-45.5},{"b":1,"x":-32.5,"y":-44.1},{"b":1,"x":-31.3,"y":-45.5},{"b":1,"x":-30.1,"y":-50.1},{"b":1,"x":-29.3,"y":-55.6},{"b":1,"x":-28.5,"y":-64.1},{"b":1,"x":-27.5,"y":-86.1},
{"b":2,"x":-33.8,"y":-85.1},{"b":2,"x":-32.8,"y":-63.1},{"b":2,"x":-32,"y":-54.6},{"b":2,"x":-31.2,"y":-49.1},{"b":2,"x":-30,"y":-44.5},{"b":2,"x":-28.8,"y":-43.1},{"b":2,"x":-27.6,"y":-44.5},{"b":2,"x":-26.4,"y":-49.1},{"b":2,"x":-25.6,"y":-54.6},{"b":2,"x":-24.8,"y":-63.1},{"b":2,"x":-23.8,"y":-85.1},
{"b":3,"x":-30.1,"y":-83.4},{"b":3,"x":-29.1,"y":-61.4},{"b":3,"x":-28.3,"y":-52.9},{"b":3,"x":-27.5,"y":-47.4},{"b":3,"x":-26.3,"y":-42.8},{"b":3,"x":-25.1,"y":-41.4},{"b":3,"x":-23.9,"y":-42.8},{"b":3,"x":-22.7,"y":-47.4},{"b":3,"x":-21.9,"y":-52.9},{"b":3,"x":-21.1,"y":-61.4},{"b":3,"x":-20.1,"y":-83.4},
{"b":4,"x":-26.5,"y":-83},{"b":4,"x":-25.5,"y":-61},{"b":4,"x":-24.7,"y":-52.5},{"b":4,"x":-23.9,"y":-47},{"b":4,"x":-22.7,"y":-42.4},{"b":4,"x":-21.5,"y":-41},{"b":4,"x":-20.3,"y":-42.4},{"b":4,"x":-19.1,"y":-47},{"b":4,"x":-18.3,"y":-52.5},{"b":4,"x":-17.5,"y":-61},{"b":4,"x":-16.5,"y":-83},
{"b":5,"x":-22.8,"y":-83},{"b":5,"x":-21.8,"y":-61},{"b":5,"x":-21,"y":-52.5},{"b":5,"x":-20.2,"y":-47},{"b":5,"x":-19,"y":-42.4},{"b":5,"x":-17.8,"y":-41},{"b":5,"x":-16.6,"y":-42.4},{"b":5,"x":-15.4,"y":-47},{"b":5,"x":-14.6,"y":-52.5},{"b":5,"x":-13.8,"y":-61},{"b":5,"x":-12.8,"y":-83},
{"b":6,"x":-19.1,"y":-82.7},{"b":6,"x":-18.1,"y":-60.7},{"b":6,"x":-17.3,"y":-52.2},{"b":6,"x":-16.5,"y":-46.7},{"b":6,"x":-15.3,"y":-42.1},{"b":6,"x":-14.1,"y":-40.7},{"b":6,"x":-12.9,"y":-42.1},{"b":6,"x":-11.7,"y":-46.7},{"b":6,"x":-10.9,"y":-52.2},{"b":6,"x":-10.1,"y":-60.7},{"b":6,"x":-9.1,"y":-82.7},
{"b":7,"x":-15.6,"y":-82.9},{"b":7,"x":-14.6,"y":-60.9},{"b":7,"x":-13.8,"y":-52.4},{"b":7,"x":-13,"y":-46.9},{"b":7,"x":-11.8,"y":-42.3},{"b":7,"x":-10.6,"y":-40.9},{"b":7,"x":-9.4,"y":-42.3},{"b":7,"x":-8.2,"y":-46.9},{"b":7,"x":-7.4,"y":-52.4},{"b":7,"x":-6.6,"y":-60.9},{"b":7,"x":-5.6,"y":-82.9},
{"b":8,"x":-11.8,"y":-83},{"b":8,"x":-10.8,"y":-61},{"b":8,"x":-10,"y":-52.5},{"b":8,"x":-9.2,"y":-47},{"b":8,"x":-8,"y":-42.4},{"b":8,"x":-6.8,"y":-41},{"b":8,"x":-5.6,"y":-42.4},{"b":8,"x":-4.4,"y":-47},{"b":8,"x":-3.6,"y":-52.5},{"b":8,"x":-2.8,"y":-61},{"b":8,"x":-1.8,"y":-83},
{"b":9,"x":-8.3,"y":-81.7},{"b":9,"x":-7.3,"y":-59.7},{"b":9,"x":-6.5,"y":-51.2},{"b":9,"x":-5.7,"y":-45.7},{"b":9,"x":-4.5,"y":-41.1},{"b":9,"x":-3.3,"y":-39.7},{"b":9,"x":-2.1,"y":-41.1},{"b":9,"x":-0.9,"y":-45.7},{"b":9,"x":-0.1,"y":-51.2},{"b":9,"x":0.7,"y":-59.7},{"b":9,"x":1.7,"y":-81.7},
{"b":10,"x":-5.3,"y":-82.1},{"b":10,"x":-4.3,"y":-60.1},{"b":10,"x":-3.5,"y":-51.6},{"b":10,"x":-2.7,"y":-46.1},{"b":10,"x":-1.5,"y":-41.5},{"b":10,"x":-0.3,"y":-40.1},{"b":10,"x":0.9,"y":-41.5},{"b":10,"x":2.1,"y":-46.1},{"b":10,"x":2.9,"y":-51.6},{"b":10,"x":3.7,"y":-60.1},{"b":10,"x":4.7,"y":-82.1},
{"b":11,"x":-2,"y":-81.8},{"b":11,"x":-1,"y":-59.8},{"b":11,"x":-0.2,"y":-51.3},{"b":11,"x":0.6,"y":-45.8},{"b":11,"x":1.8,"y":-41.2},{"b":11,"x":3,"y":-39.8},{"b":11,"x":4.2,"y":-41.2},{"b":11,"x":5.4,"y":-45.8},{"b":11,"x":6.2,"y":-51.3},{"b":11,"x":7,"y":-59.8},{"b":11,"x":8,"y":-81.8},
{"b":12,"x":1.1,"y":-82.3},{"b":12,"x":2.1,"y":-60.3},{"b":12,"x":2.9,"y":-51.8},{"b":12,"x":3.7,"y":-46.3},{"b":12,"x":4.9,"y":-41.7},{"b":12,"x":6.1,"y":-40.3},{"b":12,"x":7.3,"y":-41.7},{"b":12,"x":8.5,"y":-46.3},{"b":12,"x":9.3,"y":-51.8},{"b":12,"x":10.1,"y":-60.3},{"b":12,"x":11.1,"y":-82.3},
{"b":13,"x":4.5,"y":-82.2},{"b":13,"x":5.5,"y":-60.2},{"b":13,"x":6.3,"y":-51.7},{"b":13,"x":7.1,"y":-46.2},{"b":13,"x":8.3,"y":-41.6},{"b":13,"x":9.5,"y":-40.2},{"b":13,"x":10.7,"y":-41.6},{"b":13,"x":11.9,"y":-46.2},{"b":13,"x":12.7,"y":-51.7},{"b":13,"x":13.5,"y":-60.2},{"b":13,"x":14.5,"y":-82.2},
{"b":14,"x":8.2,"y":-83.1},{"b":14,"x":9.2,"y":-61.1},{"b":14,"x":10,"y":-52.6},{"b":14,"x":10.8,"y":-47.1},{"b":14,"x":12,"y":-42.5},{"b":14,"x":13.2,"y":-41.1},{"b":14,"x":14.4,"y":-42.5},{"b":14,"x":15.6,"y":-47.1},{"b":14,"x":16.4,"y":-52.6},{"b":14,"x":17.2,"y":-61.1},{"b":14,"x":18.2,"y":-83.1},
{"b":15,"x":11.9,"y":-83.2},{"b":15,"x":12.9,"y":-61.2},{"b":15,"x":13.7,"y":-52.7},{"b":15,"x":14.5,"y":-47.2},{"b":15,"x":15.7,"y":-42.6},{"b":15,"x":16.9,"y":-41.2},{"b":15,"x":18.1,"y":-42.6},{"b":15,"x":19.3,"y":-47.2},{"b":15,"x":20.1,"y":-52.7},{"b":15,"x":20.9,"y":-61.2},{"b":15,"x":21.9,"y":-83.2},
{"b":16,"x":15.7,"y":-84.7},{"b":16,"x":16.7,"y":-62.7},{"b":16,"x":17.5,"y":-54.2},{"b":16,"x":18.3,"y":-48.7},{"b":16,"x":19.5,"y":-44.1},{"b":16,"x":20.7,"y":-42.7},{"b":16,"x":21.9,"y":-44.1},{"b":16,"x":23.1,"y":-48.7},{"b":16,"x":23.9,"y":-54.2},{"b":16,"x":24.7,"y":-62.7},{"b":16,"x":25.7,"y":-84.7},
{"b":17,"x":19.6,"y":-84.6},{"b":17,"x":20.6,"y":-62.6},{"b":17,"x":21.4,"y":-54.1},{"b":17,"x":22.2,"y":-48.6},{"b":17,"x":23.4,"y":-44},{"b":17,"x":24.6,"y":-42.6},{"b":17,"x":25.8,"y":-44},{"b":17,"x":27,"y":-48.6},{"b":17,"x":27.8,"y":-54.1},{"b":17,"x":28.6,"y":-62.6},{"b":17,"x":29.6,"y":-84.6},
{"b":18,"x":23.8,"y":-85.8},{"b":18,"x":24.8,"y":-63.8},{"b":18,"x":25.6,"y":-55.3},{"b":18,"x":26.4,"y":-49.8},{"b":18,"x":27.6,"y":-45.2},{"b":18,"x":28.8,"y":-43.8},{"b":18,"x":30,"y":-45.2},{"b":18,"x":31.2,"y":-49.8},{"b":18,"x":32,"y":-55.3},{"b":18,"x":32.8,"y":-63.8},{"b":18,"x":33.8,"y":-85.8}
]
},
"spacing":30,
"vconcat":[
{"spacing":26,
 "vconcat":[
{"width":393,"height":346,"title":"Beam pattern (6 000 MHz)",
 "layer":[
  {"data":{"name":"n1"},"transform":[{"fold":["a","b","c","d","e","f","g","h"],"as":["s","y"]}],
   "mark":{"type":"line","clip":true},
   "encoding":{
    "x":{"field":"x","type":"quantitative","scale":{"domain":[-60,60],"nice":false,"zero":false},"axis":{"values":[-60,-40,-20,0,20,40,60],"title":"Angle/(°)","titlePadding":12}},
    "y":{"field":"y","type":"quantitative","scale":{"domain":[-80,-40],"nice":false,"zero":false},"axis":{"values":[-80,-70,-60,-50,-40],"title":"Amplitude","titlePadding":21}},
    "detail":{"field":"s"}}},
  {"data":{"name":"l1"},
   "mark":{"type":"line","clip":true,"interpolate":"monotone"},
   "encoding":{
    "x":{"field":"x","type":"quantitative","scale":{"domain":[-60,60],"nice":false,"zero":false},"axis":{"values":[-60,-40,-20,0,20,40,60],"title":"Angle/(°)","titlePadding":12}},
    "y":{"field":"y","type":"quantitative","scale":{"domain":[-80,-40],"nice":false,"zero":false},"axis":{"values":[-80,-70,-60,-50,-40],"title":"Amplitude","titlePadding":21}},
    "detail":{"field":"b"}}}
 ]},
{"width":393,"height":346,"title":"Beam pattern (10 000 MHz)",
 "layer":[
  {"data":{"name":"n2"},"transform":[{"fold":["a","b","c","d","e","f","g","h"],"as":["s","y"]}],
   "mark":{"type":"line","clip":true},
   "encoding":{
    "x":{"field":"x","type":"quantitative","scale":{"domain":[-60,60],"nice":false,"zero":false},"axis":{"values":[-60,-40,-20,0,20,40,60],"title":"Angle/(°)","titlePadding":12}},
    "y":{"field":"y","type":"quantitative","scale":{"domain":[-80,-40],"nice":false,"zero":false},"axis":{"values":[-80,-70,-60,-50,-40],"title":"Amplitude","titlePadding":21}},
    "detail":{"field":"s"}}},
  {"data":{"name":"l2"},
   "mark":{"type":"line","clip":true,"interpolate":"monotone"},
   "encoding":{
    "x":{"field":"x","type":"quantitative","scale":{"domain":[-60,60],"nice":false,"zero":false},"axis":{"values":[-60,-40,-20,0,20,40,60],"title":"Angle/(°)","titlePadding":12}},
    "y":{"field":"y","type":"quantitative","scale":{"domain":[-80,-40],"nice":false,"zero":false},"axis":{"values":[-80,-70,-60,-50,-40],"title":"Amplitude","titlePadding":21}},
    "detail":{"field":"b"}}}
 ]}
 ]},
{"width":393,"height":346,"title":{"text":"Beam pattern (12 400 MHz)","offset":2},
 "layer":[
  {"data":{"name":"n3"},"transform":[{"fold":["a","b","c","d","e","f","g","h"],"as":["s","y"]}],
   "mark":{"type":"line","clip":true},
   "encoding":{
    "x":{"field":"x","type":"quantitative","scale":{"domain":[-60,60],"nice":false,"zero":false},"axis":{"values":[-60,-40,-20,0,20,40,60],"title":"Angle/(°)","titlePadding":12}},
    "y":{"field":"y","type":"quantitative","scale":{"domain":[-80,-35],"nice":false,"zero":false},"axis":{"values":[-80,-70,-60,-50,-40],"title":"Amplitude","titlePadding":21}},
    "detail":{"field":"s"}}},
  {"data":{"name":"l3"},
   "mark":{"type":"line","clip":true,"interpolate":"monotone"},
   "encoding":{
    "x":{"field":"x","type":"quantitative","scale":{"domain":[-60,60],"nice":false,"zero":false},"axis":{"values":[-60,-40,-20,0,20,40,60],"title":"Angle/(°)","titlePadding":12}},
    "y":{"field":"y","type":"quantitative","scale":{"domain":[-80,-35],"nice":false,"zero":false},"axis":{"values":[-80,-70,-60,-50,-40],"title":"Amplitude","titlePadding":21}},
    "detail":{"field":"b"}}}
 ]}
]
}
